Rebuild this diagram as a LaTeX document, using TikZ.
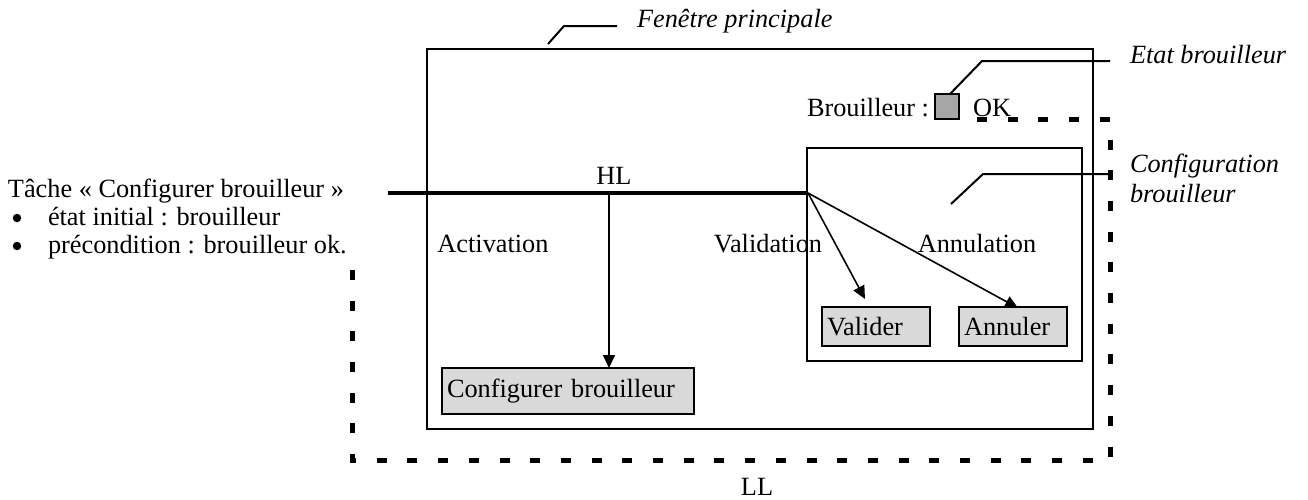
\documentclass[tikz,border=0pt]{standalone}
\usepackage{fontspec}
\setmainfont{Liberation Serif}
\usetikzlibrary{arrows.meta}
\definecolor{btngray}{HTML}{D9D9D9}
\definecolor{ledgray}{HTML}{A6A6A6}
\begin{document}
\begin{tikzpicture}[x=1pt,y=-1pt,
  every node/.style={font=\fontsize{26.3}{28}\selectfont, inner sep=0pt, outer sep=0pt},
  frame/.style={draw, line width=2pt},
  btn/.style={draw, fill=btngray, line width=2pt, inner xsep=5pt, align=left},
  lbl/.style={anchor=base},
  note/.style={anchor=base west, font=\fontsize{26.3}{28}\selectfont\itshape},
  leader/.style={line width=2pt},
  hl/.style={line width=4pt},
  bulletdot/.style={circle, fill=black, minimum size=8.5pt},
  conn/.style={line width=1.6pt, -{Triangle[length=13pt,width=12pt]}},
  ll/.style={line width=5pt, dash pattern=on 10pt off 20.7pt}]
\useasboundingbox (0,0) rectangle (1308,499);

% windows
\node[frame, minimum width=666pt, minimum height=380pt] (win) at (760,239) {};
\node[frame, minimum width=275pt, minimum height=213pt] (cfgwin) at (944.5,254.5) {};

% buttons
\node[btn, text width=242pt, minimum height=46pt] (cfg) at (568,391) {Configurer brouilleur};
\node[btn, text width=98pt, minimum height=39pt] (val) at (876,326.5) {Valider};
\node[btn, text width=98pt, minimum height=39pt] (ann) at (1013,326.5) {Annuler};

% state indicator
\node[anchor=base east] (brl) at (929,116) {Brouilleur :};
\node[draw, fill=ledgray, line width=2pt, minimum width=24pt, minimum height=25pt] (led) at (947,106.5) {};
\node[anchor=base west] (ok) at (973,116) {OK};

% labels
\node[lbl] (hltxt) at (614,184) {HL};
\node[lbl] (act) at (493,252) {Activation};
\node[lbl] (valtxt) at (768,252) {Validation};
\node[lbl] (anntxt) at (977,252) {Annulation};
\node[lbl] (lltxt) at (757,495) {LL};

% notes
\node[note] (fen) at (637,27) {Fenêtre principale};
\node[note] (etat) at (1130,63) {Etat brouilleur};
\node[note] (conf) at (1130,172) {Configuration};
\node[note] (conf2) at (1130,202) {brouilleur};

% task description
\node[anchor=base west] (task) at (8,197) {Tâche « Configurer brouilleur »};
\node[bulletdot] (b1) at (17,218) {};
\node[anchor=base west] (t1) at (48,225) {état initial : brouilleur};
\node[bulletdot] (b2) at (17,246) {};
\node[anchor=base west] (t2) at (48,253) {précondition : brouilleur ok.};

% coordinates
\coordinate (hlL) at (388,193);
\coordinate (hlA) at (609,193);
\coordinate (hlR) at (808,193);
\coordinate (valtip) at (865,299);
\coordinate (anntip) at (1018,308);

% HL line and arrows
\draw[hl] (hlL) -- (hlR);
\draw[conn] (hlA) -- (hlA |- cfg.north);
\draw[conn] (hlR) -- (valtip);
\draw[conn] (hlR) -- (anntip);

% leaders
\coordinate (fenA) at (548,44);
\coordinate (etatA) at (950,94);
\coordinate (confA) at (951,204);
\draw[leader] (fenA) -- (564,26) -- (617,26);
\draw[leader] (etatA) -- (982,61) -- (1110,61);
\draw[leader] (confA) -- (983,174) -- (1110,174);

% LL dashed border
\coordinate (llA) at (977,119);
\coordinate (llB) at (1110,119);
\coordinate (llC) at (1110,460);
\coordinate (llD) at (352,460);
\coordinate (llE) at (352,264);
\draw[ll] (llA) -- (llB) -- (llC) -- (llD) -- (llE);
\end{tikzpicture}
\end{document}
